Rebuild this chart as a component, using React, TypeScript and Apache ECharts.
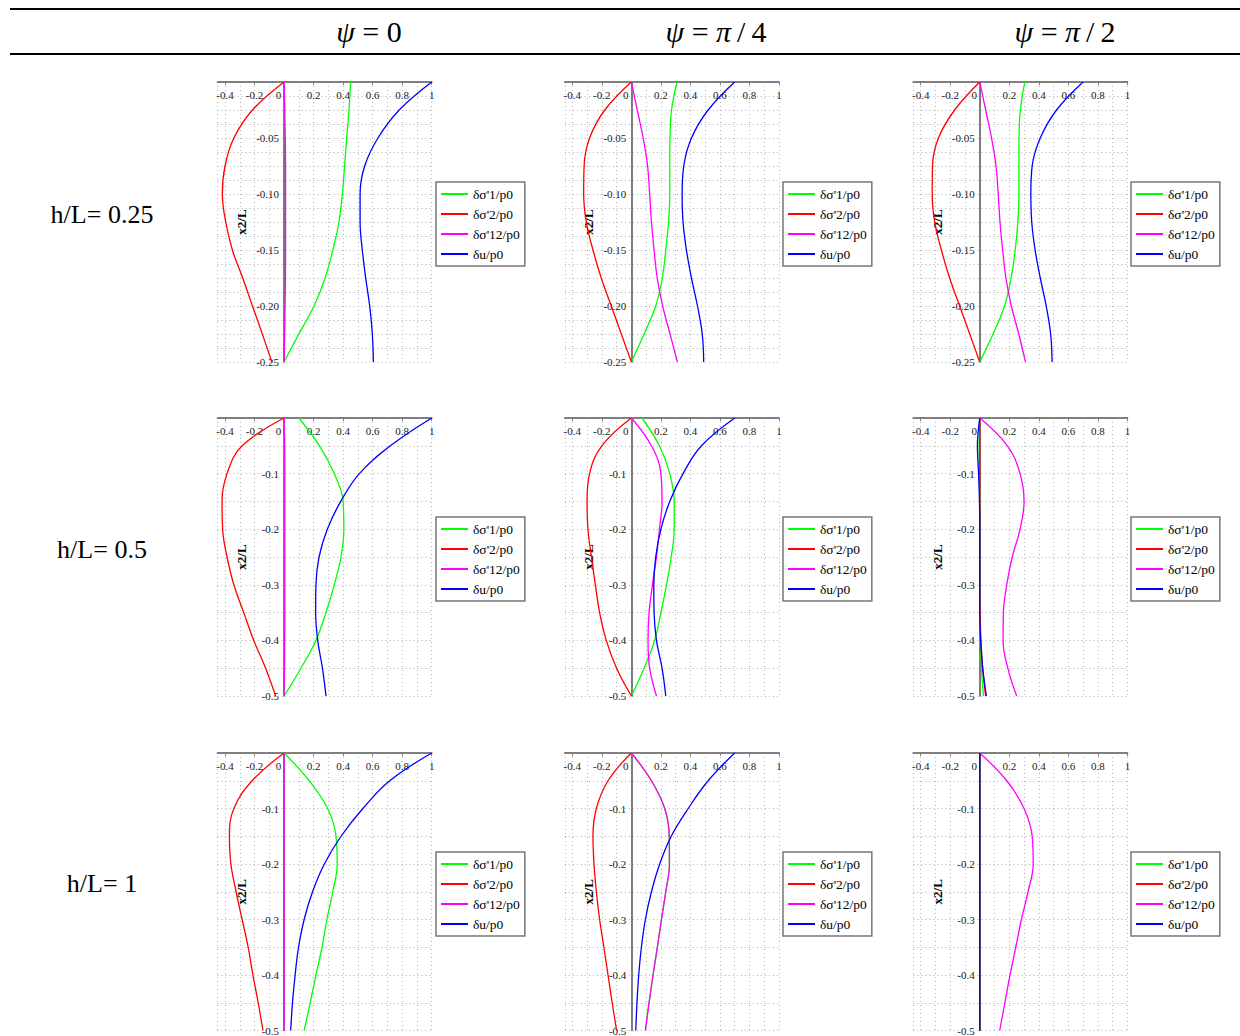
import React, { useEffect, useRef } from 'react';
import * as echarts from 'echarts';

const FONT = '"Liberation Serif", "Times New Roman", serif';

// ---------- texts ----------
const SERIES_NAMES = ["δσ'1/p0", "δσ'2/p0", "δσ'12/p0", "δu/p0"];
const COLUMN_TITLES = ['{i|ψ} = 0', '{i|ψ} = {i|π}\u2009/\u20094', '{i|ψ} = {i|π}\u2009/\u20092'];
const ROW_LABELS = ['h/L= 0.25', 'h/L= 0.5', 'h/L= 1'];
const Y_NAME = 'x2/L';

// ---------- axes ----------
const X_MIN = -0.45; // plot frame starts slightly left of the -0.4 tick
const X_MAX = 1;
const X_SPLIT = 7; // gives 0.2 steps: -0.4, -0.2, 0, ... 1
const X_FIRST_LABEL = -0.4;
const Y_MIN_ROWS = [-0.25, -0.5, -0.5];
const Y_INTERVAL_ROWS = [0.05, 0.1, 0.1];
const Y_DECIMALS_ROWS = [2, 1, 1];
const Y_MINOR_ROWS = [4, 2, 2];

// sample depths (x2/L)
const DEPTH_025 = [0, -0.025, -0.05, -0.075, -0.1, -0.125, -0.15, -0.175, -0.2, -0.225, -0.25];
const DEPTH_05 = [0, -0.05, -0.1, -0.15, -0.2, -0.25, -0.3, -0.35, -0.4, -0.45, -0.5];

// ---------- values: row h/L=0.25 ----------
const P11_S1 = [0.45, 0.44, 0.424, 0.41, 0.395, 0.372, 0.33, 0.278, 0.203, 0.1, 0];
const P11_S2 = [0, -0.214, -0.34, -0.4, -0.418, -0.395, -0.35, -0.28, -0.214, -0.147, -0.083];
const P11_S12 = [0, 0.005, 0.008, 0.01, 0.01, 0.01, 0.01, 0.009, 0.007, 0.004, 0];
const P11_U = [1.0, 0.78, 0.636, 0.546, 0.515, 0.515, 0.53, 0.553, 0.58, 0.598, 0.605];

const P12_S1 = [0.31, 0.272, 0.262, 0.26, 0.26, 0.252, 0.233, 0.21, 0.165, 0.086, 0];
const P12_S2 = [0, -0.18, -0.283, -0.32, -0.323, -0.305, -0.26, -0.204, -0.136, -0.068, 0];
const P12_S12 = [0, 0.04, 0.08, 0.11, 0.124, 0.136, 0.154, 0.175, 0.212, 0.262, 0.312];
const P12_U = [0.7, 0.52, 0.407, 0.355, 0.344, 0.35, 0.373, 0.407, 0.448, 0.48, 0.49];

const P13_S1 = [0.305, 0.275, 0.266, 0.265, 0.265, 0.258, 0.24, 0.212, 0.168, 0.09, 0];
const P13_S2 = [0, -0.17, -0.28, -0.32, -0.322, -0.305, -0.26, -0.204, -0.136, -0.068, 0];
const P13_S12 = [0, 0.04, 0.08, 0.11, 0.125, 0.137, 0.155, 0.177, 0.214, 0.264, 0.31];
const P13_U = [0.7, 0.52, 0.41, 0.355, 0.346, 0.352, 0.375, 0.41, 0.45, 0.48, 0.49];

// ---------- values: row h/L=0.5 ----------
const P21_S1 = [0.1, 0.24, 0.34, 0.4, 0.405, 0.386, 0.34, 0.284, 0.216, 0.114, 0];
const P21_S2 = [0, -0.284, -0.386, -0.42, -0.416, -0.386, -0.34, -0.273, -0.205, -0.125, -0.057];
const P21_S12 = [0, 0.004, 0.005, 0.005, 0.005, 0.005, 0.005, 0.005, 0.004, 0.003, 0];
const P21_U = [1.0, 0.72, 0.51, 0.384, 0.293, 0.237, 0.216, 0.214, 0.228, 0.26, 0.284];

const P22_S1 = [0.072, 0.19, 0.26, 0.29, 0.29, 0.27, 0.238, 0.2, 0.158, 0.086, 0];
const P22_S2 = [0, -0.2, -0.283, -0.3, -0.294, -0.27, -0.244, -0.215, -0.17, -0.1, 0];
const P22_S12 = [0, 0.136, 0.2, 0.208, 0.19, 0.17, 0.143, 0.12, 0.113, 0.124, 0.17];
const P22_U = [0.7, 0.475, 0.35, 0.26, 0.2, 0.165, 0.152, 0.154, 0.17, 0.208, 0.233];

const P23_S1 = [0, -0.004, -0.003, 0, 0, 0, 0, 0, 0.004, 0.012, 0.025];
const P23_S2 = [0, 0, 0, 0, 0, 0, 0, 0.002, 0.008, 0.02, 0.04];
const P23_S12 = [0, 0.187, 0.273, 0.3, 0.273, 0.22, 0.183, 0.16, 0.158, 0.19, 0.25];
const P23_U = [0, -0.016, -0.008, -0.002, 0, 0, 0, 0, 0.006, 0.02, 0.045];

// ---------- values: row h/L=1 ----------
const P31_S1 = [0, 0.17, 0.295, 0.352, 0.36, 0.33, 0.29, 0.257, 0.216, 0.177, 0.136];
const P31_S2 = [0, -0.216, -0.34, -0.37, -0.36, -0.325, -0.284, -0.243, -0.211, -0.175, -0.143];
const P31_S12 = [0, 0, 0, 0, 0, 0, 0, 0, 0, 0, 0];
const P31_U = [1.0, 0.716, 0.534, 0.386, 0.273, 0.193, 0.136, 0.098, 0.075, 0.057, 0.045];

const P32_S1 = [0, 0.136, 0.226, 0.257, 0.258, 0.233, 0.204, 0.176, 0.147, 0.12, 0.095];
const P32_S2 = [0, -0.158, -0.237, -0.26, -0.253, -0.237, -0.215, -0.186, -0.158, -0.13, -0.1];
const P32_S12 = [0, 0.136, 0.226, 0.257, 0.258, 0.233, 0.204, 0.176, 0.147, 0.12, 0.095];
const P32_U = [0.7, 0.52, 0.385, 0.27, 0.192, 0.136, 0.095, 0.068, 0.05, 0.038, 0.03];

const P33_S1 = [0, 0, 0, 0, 0, 0, 0, 0, 0, 0, 0];
const P33_S2 = [0, 0, 0, 0, 0, 0, 0, 0, 0, 0, 0];
const P33_S12 = [0, 0.183, 0.3, 0.355, 0.362, 0.327, 0.282, 0.244, 0.205, 0.17, 0.135];
const P33_U = [0, 0, 0, 0, 0, 0, 0, 0, 0, 0, 0];

const PANEL_VALUES = [
  [[P11_S1, P11_S2, P11_S12, P11_U], [P12_S1, P12_S2, P12_S12, P12_U], [P13_S1, P13_S2, P13_S12, P13_U]],
  [[P21_S1, P21_S2, P21_S12, P21_U], [P22_S1, P22_S2, P22_S12, P22_U], [P23_S1, P23_S2, P23_S12, P23_U]],
  [[P31_S1, P31_S2, P31_S12, P31_U], [P32_S1, P32_S2, P32_S12, P32_U], [P33_S1, P33_S2, P33_S12, P33_U]],
];
const ROW_DEPTHS = [DEPTH_025, DEPTH_05, DEPTH_05];

// ---------- layout & style ----------
const COLORS = ['#00ff00', '#ff0000', '#ff00ff', '#0000ff'];
const PX_PER_UNIT = 147.64;
const X_AT_MINUS04 = [225, 572.3, 920.7]; // page x of the -0.4 tick in each column
const COL_LEFT = X_AT_MINUS04.map((x) => x - (X_FIRST_LABEL - X_MIN) * PX_PER_UNIT);
const PANEL_W = (X_MAX - X_MIN) * PX_PER_UNIT;
const ROW_TOP = [82, 418, 753];
const ROW_H = [280, 278, 278];
const LEGEND_LEFT = [436, 783, 1131];
const LEGEND_TOP = [182, 517, 852];
const COL_TITLE_X = [369, 716, 1065];
const ROW_LABEL_Y = [214, 549, 883];
// distance from grid left edge to x = 0, so the y axis sits on x = 0
const Y_AXIS_OFFSET = -(0 - X_MIN) * PX_PER_UNIT;

const gridLine = { color: '#b4b4b4', type: [1, 3] as any, width: 1 };

function buildOption() {
  const grid: any[] = [];
  const xAxis: any[] = [];
  const yAxis: any[] = [];
  const series: any[] = [];
  const legend: any[] = [];
  let idx = 0;
  for (let r = 0; r < 3; r++) {
    for (let c = 0; c < 3; c++) {
      grid.push({ left: COL_LEFT[c], top: ROW_TOP[r], width: PANEL_W, height: ROW_H[r], containLabel: false });
      xAxis.push({
        type: 'value',
        gridIndex: idx,
        min: X_MIN,
        max: X_MAX,
        splitNumber: X_SPLIT,
        position: 'top',
        axisLine: { show: true, onZero: false, lineStyle: { color: '#808080', width: 2 } },
        axisTick: { show: true, inside: true, length: 3, lineStyle: { color: '#808080' } },
        axisLabel: {
          inside: true,
          margin: 7,
          fontFamily: FONT,
          fontSize: 11,
          color: '#222',
          showMinLabel: false,
          formatter: (v: number) => {
            if (v < X_FIRST_LABEL - 1e-9) return '';
            return Math.abs(v) < 1e-9 ? '{z|0}' : String(+v.toFixed(1));
          },
          rich: { z: { fontFamily: FONT, fontSize: 11, color: '#222', padding: [0, 11, 0, 0] } },
        },
        splitLine: { show: true, lineStyle: gridLine },
        minorTick: { show: false, splitNumber: 2 },
        minorSplitLine: { show: true, lineStyle: gridLine },
      });
      const dec = Y_DECIMALS_ROWS[r];
      yAxis.push({
        type: 'value',
        gridIndex: idx,
        min: Y_MIN_ROWS[r],
        max: 0,
        interval: Y_INTERVAL_ROWS[r],
        position: 'left',
        offset: Y_AXIS_OFFSET,
        axisLine: { show: true, onZero: false, lineStyle: { color: '#555', width: 1.5 } },
        axisTick: { show: false },
        axisLabel: {
          margin: 5,
          fontFamily: FONT,
          fontSize: 11,
          color: '#222',
          formatter: (v: number) => (Math.abs(v) < 1e-9 ? '' : v.toFixed(dec)),
        },
        name: Y_NAME,
        nameLocation: 'middle',
        nameGap: 36,
        nameRotate: 90,
        nameTextStyle: { fontFamily: FONT, fontSize: 13, fontWeight: 'bold', color: '#000' },
        splitLine: { show: true, lineStyle: gridLine },
        minorTick: { show: false, splitNumber: Y_MINOR_ROWS[r] },
        minorSplitLine: { show: true, lineStyle: gridLine },
      });
      const depths = ROW_DEPTHS[r];
      PANEL_VALUES[r][c].forEach((vals, k) => {
        series.push({
          type: 'line',
          name: SERIES_NAMES[k],
          xAxisIndex: idx,
          yAxisIndex: idx,
          data: vals.map((v, j) => [v, depths[j]]),
          smooth: 0.4,
          symbol: 'none',
          clip: false,
          silent: true,
          z: 3,
          lineStyle: { color: COLORS[k], width: 1.3 },
          itemStyle: { color: COLORS[k] },
        });
      });
      legend.push({
        left: LEGEND_LEFT[c],
        top: LEGEND_TOP[r],
        orient: 'vertical',
        data: SERIES_NAMES,
        icon: 'rect',
        itemWidth: 27,
        itemHeight: 2,
        itemGap: 6,
        padding: [5, 5, 5, 5],
        borderColor: '#777',
        borderWidth: 1.5,
        backgroundColor: '#fff',
        selectedMode: false,
        textStyle: { fontFamily: FONT, fontSize: 13.5, color: '#000' },
      });
      idx++;
    }
  }

  const graphic: any[] = [
    { type: 'line', shape: { x1: 10, y1: 9, x2: 1240, y2: 9 }, style: { stroke: '#000', lineWidth: 2 } },
    { type: 'line', shape: { x1: 10, y1: 54, x2: 1240, y2: 54 }, style: { stroke: '#000', lineWidth: 2 } },
  ];
  COLUMN_TITLES.forEach((t, c) => {
    graphic.push({
      type: 'text',
      x: COL_TITLE_X[c],
      y: 31,
      style: {
        text: t,
        fontFamily: FONT,
        fontSize: 30,
        fill: '#000',
        align: 'center',
        verticalAlign: 'middle',
        rich: { i: { fontFamily: FONT, fontSize: 30, fontStyle: 'italic', fill: '#000' } },
      },
    });
  });
  ROW_LABELS.forEach((t, r) => {
    graphic.push({
      type: 'text',
      x: 102,
      y: ROW_LABEL_Y[r],
      style: { text: t, fontFamily: FONT, fontSize: 26, fill: '#000', align: 'center', verticalAlign: 'middle' },
    });
  });

  return {
    animation: false,
    backgroundColor: '#fff',
    grid,
    xAxis,
    yAxis,
    series,
    legend,
    graphic,
  };
}

export default function App() {
  const ref = useRef<HTMLDivElement>(null);
  useEffect(() => {
    if (!ref.current) return;
    const chart = echarts.init(ref.current, undefined, { renderer: 'svg' });
    chart.setOption(buildOption() as any);
    return () => chart.dispose();
  }, []);
  return (
    <div
      ref={ref}
      style={{ position: 'absolute', left: 0, top: 0, width: 1240, height: 1036, background: '#fff' }}
    />
  );
}
